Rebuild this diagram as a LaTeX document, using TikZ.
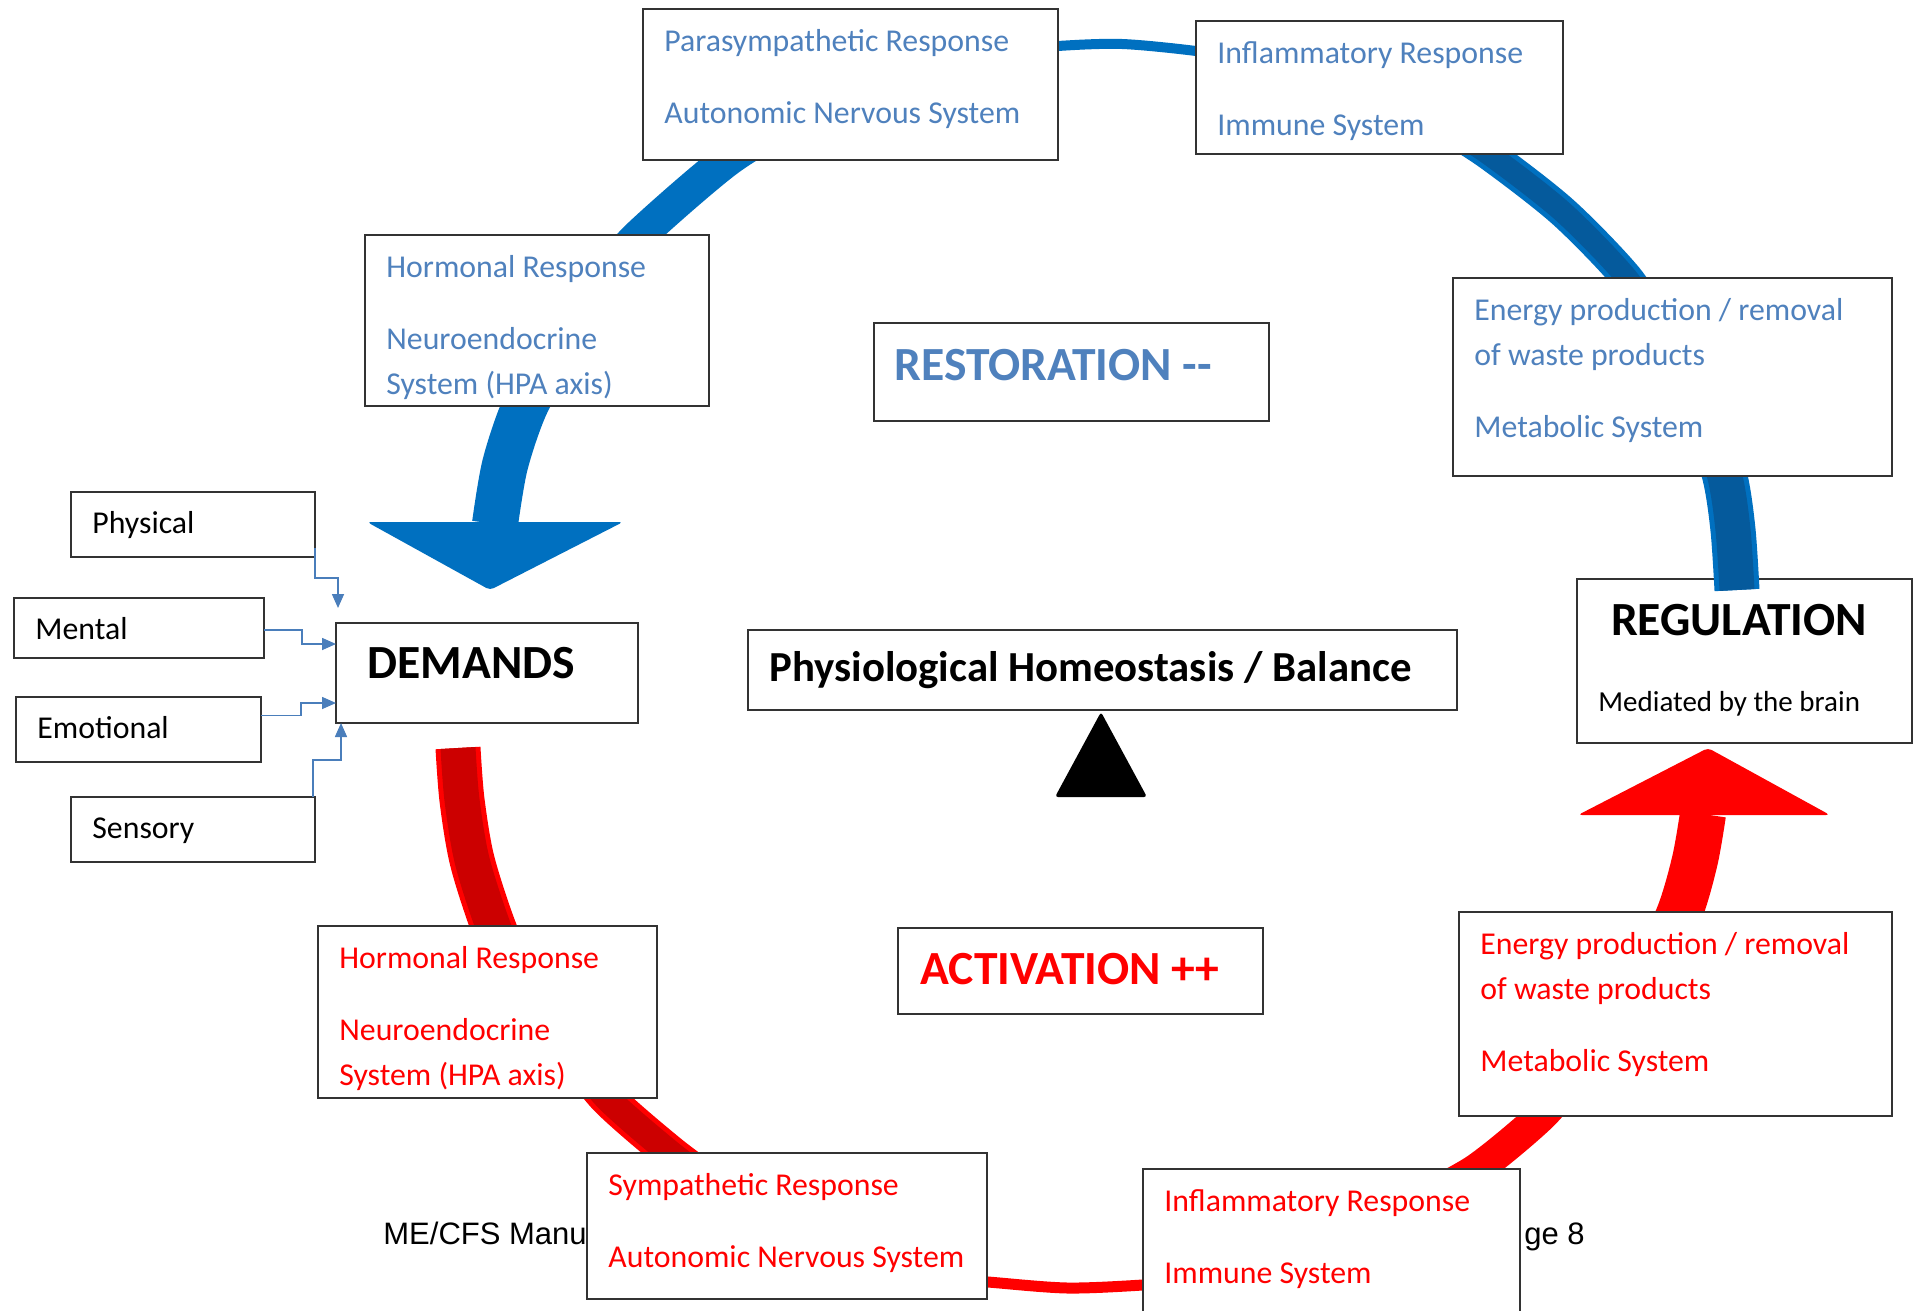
\documentclass[tikz,border=0pt]{standalone}
\usepackage{fontspec}
\setmainfont{Carlito}
\newfontfamily\footfont{Liberation Sans}
\usepackage{xcolor}
\definecolor{txtblue}{HTML}{4F81BD}
\definecolor{arcblue}{HTML}{0070C0}
\definecolor{arcbluedark}{HTML}{055A9C}
\definecolor{arcred}{HTML}{FF0000}
\definecolor{arcreddark}{HTML}{CC0000}
\definecolor{feedblue}{HTML}{4A7EBB}
\definecolor{boxline}{HTML}{333333}
\usepackage{tikz}
\usetikzlibrary{calc,fit,arrows.meta}

\newcommand{\txtnorm}{\fontsize{15.9}{22.5}\selectfont}
\newcommand{\txtsmall}{\fontsize{14.5}{20}\selectfont}
\newcommand{\txtbig}{\fontsize{23.8}{28}\selectfont\bfseries}
\newcommand{\txtmid}{\fontsize{21.4}{26}\selectfont\bfseries}
\newcommand{\txtfoot}{\footfont\fontsize{15.5}{19}\selectfont}

\tikzset{
  sysbox/.style={draw=boxline, line width=1pt, fill=white, inner sep=0pt, outer sep=0pt},
  boxtxt/.style={anchor=north west, inner sep=0pt, align=left, font=\txtnorm, execute at begin node=\strut},
  feed/.style={draw=feedblue, line width=0.8pt, -{Triangle[length=7pt,width=6pt]}},
  foottxt/.style={inner sep=0pt, font=\txtfoot}
}

\begin{document}
\begin{tikzpicture}[x=0.5pt, y=-0.5pt]
  \fill[white] (0,0) rectangle (1913,1311);
  \useasboundingbox (0,0) rectangle (1913,1311);

  % page footer, mostly hidden behind the boxes
  \node[foottxt, anchor=base west] (foot-l) at (383,1244) {ME/CFS Manu};
  \node[foottxt, anchor=base east] (foot-r) at (1585,1244) {ge 8};

  % regulation box lies under the end of the blue band
  \node[sysbox, fit={(1577,579)(1912,743)}] (regul) {};
  \node[inner sep=0pt, font=\txtbig, anchor=base] (regul-t) at ([shift={(-5.5,56)}]regul.north) {REGULATION};
  \node[inner sep=0pt, font=\txtsmall, anchor=base west] (regul-s) at ([shift={(21,132)}]regul.north west) {Mediated by the brain};

  % restoration band (blue)
  \draw[arcblue, line width=2.5pt, double=arcbluedark, double distance=17.5pt] plot[smooth] coordinates {(1737,590) (1733,530) (1725,477) (1705,410)};
  \draw[arcblue, line width=2.5pt, double=arcbluedark, double distance=11pt] plot[smooth] coordinates {(1660,330) (1627,278) (1563,212) (1490,155) (1440,123)};
  \draw[arcblue, line width=5pt] plot[smooth] coordinates {(1250,60) (1196,51) (1122,44) (1058,46) (1000,52)};
  \draw[arcblue, line width=17pt] plot[smooth] coordinates {(800,115) (727,160) (640,235) (600,280)};
  \draw[arcblue, line width=23pt] plot[smooth] coordinates {(560,340) (525,406) (505,465) (495,524)};
  \fill[arcblue, rounded corners=2pt] (367,522) -- (623,522) -- (490,590) -- cycle;

  % activation band (red)
  \draw[arcred, line width=2.5pt, double=arcreddark, double distance=17.5pt] plot[smooth] coordinates {(458,748) (462,800) (472,860) (493,926) (520,990)};
  \draw[arcred, line width=2.5pt, double=arcreddark, double distance=13pt] plot[smooth] coordinates {(570,1050) (607,1098) (670,1153) (720,1190)};
  \draw[arcred, line width=5.5pt] plot[smooth] coordinates {(940,1278) (988,1282) (1067,1288) (1143,1285) (1200,1280)};
  \draw[arcred, line width=16pt] plot[smooth] coordinates {(1420,1200) (1477,1169) (1541,1116) (1580,1070)};
  \draw[arcred, line width=23pt] plot[smooth] coordinates {(1650,980) (1680,912) (1695,860) (1703,814)};
  \fill[arcred, rounded corners=2pt] (1578,815) -- (1830,815) -- (1708,748) -- cycle;

  % body systems on the ring
  \foreach \nm/\col/\xa/\ya/\xb/\yb/\lines in {
      para/txtblue/643/9/1058/160/{Parasympathetic Response\\[13.5pt]Autonomic Nervous System},
      inflb/txtblue/1196/21/1563/154/{Inflammatory Response\\[13.5pt]Immune System},
      hormb/txtblue/365/235/709/406/{Hormonal Response\\[13.5pt]Neuroendocrine\\System (HPA axis)},
      energyb/txtblue/1453/278/1892/476/{Energy production / removal\\of waste products\\[13.5pt]Metabolic System},
      hormr/arcred/318/926/657/1098/{Hormonal Response\\[13.5pt]Neuroendocrine\\System (HPA axis)},
      energyr/arcred/1459/912/1892/1116/{Energy production / removal\\of waste products\\[13.5pt]Metabolic System},
      symp/arcred/587/1153/987/1299/{Sympathetic Response\\[13.5pt]Autonomic Nervous System},
      inflr/arcred/1143/1169/1520/1330/{Inflammatory Response\\[13.5pt]Immune System}} {
    \node[sysbox, fit={(\xa,\ya)(\xb,\yb)}] (\nm) {};
    \node[boxtxt, text=\col] (\nm-t) at ([shift={(21,20.5)}]\nm.north west) {\lines};
  }

  % centre of the cycle
  \node[sysbox, fit={(874,323)(1269,421)}] (restor) {};
  \node[inner sep=0pt, font=\txtbig, text=txtblue, anchor=base west] (restor-t) at ([shift={(20,57)}]restor.north west) {RESTORATION -\kern0pt-};
  \node[sysbox, fit={(748,630)(1457,710)}] (homeo) {};
  \node[inner sep=0pt, font=\txtmid, anchor=base west] (homeo-t) at ([shift={(21,51)}]homeo.north west) {Physiological Homeostasis / Balance};
  \fill[black, rounded corners=1.5pt] ([shift={(-1.5,2)}]homeo.south) -- ++(46,85) -- ++(-92,0) -- cycle;
  \node[sysbox, fit={(898,928)(1263,1014)}] (activ) {};
  \node[inner sep=0pt, font=\txtbig, text=arcred, anchor=base west] (activ-t) at ([shift={(22,56)}]activ.north west) {ACTIVATION ++};

  % demands and their sources
  \node[sysbox, fit={(336,623)(638,723)}] (demands) {};
  \node[inner sep=0pt, font=\txtbig, anchor=base west] (demands-t) at ([shift={(31,55)}]demands.north west) {DEMANDS};
  \foreach \nm/\lab/\xa/\ya/\xb/\yb in {physical/Physical/71/492/315/557, mental/Mental/14/598/264/658, emotional/Emotional/16/697/261/762, sensory/Sensory/71/797/315/862} {
    \node[sysbox, fit={(\xa,\ya)(\xb,\yb)}] (\nm) {};
    \node[boxtxt] (\nm-t) at ([shift={(21,9.5)}]\nm.north west) {\lab};
  }
  \draw[feed] ([shift={(0,-9)}]physical.south east) -- ++(0,30) -| ([shift={(2,-15)}]demands.north west);
  \draw[feed] ([shift={(0,2)}]mental.east) -- ++(38,0) |- ([shift={(0,21)}]demands.north west);
  \draw[feed] ([shift={(0,-14)}]emotional.east) -- ++(40,0) |- ([shift={(0,-20)}]demands.south west);
  \draw[feed] ([shift={(-2,0)}]sensory.north east) -- ++(0,-37) -| ([shift={(5,0)}]demands.south west);
\end{tikzpicture}
\end{document}
